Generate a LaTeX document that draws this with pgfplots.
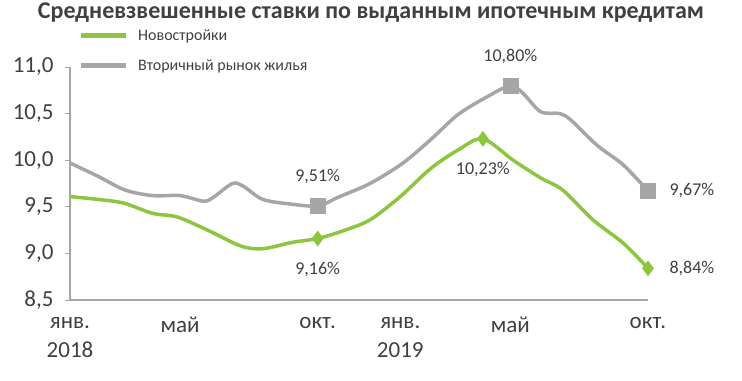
\documentclass[border=0pt]{standalone}
\usepackage{fontspec}
\setmainfont{Carlito}
\usepackage{pgfplots}
\pgfplotsset{compat=1.18}
\definecolor{tgreen}{HTML}{8CC63F}
\definecolor{tgrey}{HTML}{A6A6A6}
\definecolor{ttext}{HTML}{404040}
\begin{document}
\begin{tikzpicture}[x=1bp,y=1bp]
\useasboundingbox (-70,-80) rectangle (672,300);
\node[font=\fontsize{24bp}{28bp}\selectfont\bfseries, text=ttext] at (301,287) {Средневзвешенные ставки по выданным ипотечным кредитам};
\begin{axis}[
  at={(0,0)}, anchor=south west,
  scale only axis, width=578bp, height=233bp,
  xmin=0, xmax=21, ymin=8.5, ymax=11,
  axis x line=bottom, axis y line=left,
  axis line style={draw=tgrey, line width=1.2bp, -},
  xtick={0,4,9,12,16,21},
  xticklabels={{янв.\\2018},{май\\\phantom{2018}},{окт.\\\phantom{2018}},{янв.\\2019},{май\\\phantom{2018}},{окт.\\\phantom{2018}}},
  xticklabel style={align=center, font=\fontsize{23bp}{29bp}\selectfont, text=ttext, inner sep=0pt, anchor=north, yshift=-12bp},
  major x tick style={draw=none},
  ytick={8.5,9,9.5,10,10.5,11},
  yticklabel style={font=\fontsize{23bp}{26bp}\selectfont, text=ttext, xshift=-8bp},
  y tick label style={/pgf/number format/.cd, fixed, fixed zerofill, precision=1, use comma, assume math mode=true},
  major y tick style={draw=tgrey, line width=1bp},
  tick align=outside, major tick length=5bp,
  clip=false,
  legend cell align=left,
  legend style={draw=none, fill=none, at={(axis description cs:0.0156,0.9785)}, anchor=south west, font=\fontsize{16bp}{19bp}\selectfont, text=ttext, row sep=18bp, column sep=0bp, inner sep=0pt, nodes={inner sep=0bp}},
  legend image code/.code={\draw[#1, line width=4.5bp] (0bp,0bp) -- (45bp,0bp); \path (55bp,0bp);},
]
\addplot[tgreen, line width=3.5bp, smooth, tension=0.5] coordinates {
(0,9.61)(1,9.58)(1.95,9.54)(3,9.43)(3.9,9.39)(5,9.25)(6.2,9.08)(7,9.05)(8.1,9.12)(9,9.16)(9.9,9.24)(10.9,9.36)(12,9.61)(13.1,9.91)(14.1,10.11)(15,10.23)(16.1,10.00)(17.1,9.81)(17.9,9.68)(19,9.36)(20.1,9.11)(21,8.84)};
\addlegendentry{Новостройки}
\addplot[tgrey, line width=3.5bp, smooth, tension=0.5] coordinates {
(0,9.97)(1,9.83)(2,9.68)(3,9.62)(4,9.62)(4.85,9.56)(5.2,9.60)(5.9,9.75)(6.3,9.72)(7,9.58)(8,9.53)(9,9.51)(9.8,9.61)(10.9,9.75)(12.1,9.97)(13.1,10.22)(14.1,10.49)(15.15,10.68)(16,10.80)(16.45,10.72)(17.1,10.52)(17.8,10.50)(18.2,10.43)(19.15,10.16)(20.1,9.95)(21,9.67)};
\addlegendentry{Вторичный рынок жилья}
\addplot[only marks, mark=square*, mark size=7.5bp, color=tgrey, forget plot] coordinates {(9,9.51)(16,10.80)(21,9.67)};
\addplot[only marks, mark=diamond*, mark size=7.5bp, color=tgreen, forget plot] coordinates {(9,9.16)(15,10.23)(21,8.84)};
\begin{scope}[every node/.style={font=\fontsize{18bp}{21bp}\selectfont, text=ttext}]
\node at (axis cs:9,9.51) [yshift=29bp] {9,51\%};
\node at (axis cs:9,9.16) [yshift=-31bp] {9,16\%};
\node at (axis cs:16,10.80) [yshift=29bp] {10,80\%};
\node at (axis cs:15,10.23) [yshift=-31bp] {10,23\%};
\node at (axis cs:21,9.67) [anchor=west, xshift=18bp] {9,67\%};
\node at (axis cs:21,8.84) [anchor=west, xshift=18bp] {8,84\%};
\end{scope}
\end{axis}
\end{tikzpicture}
\end{document}
